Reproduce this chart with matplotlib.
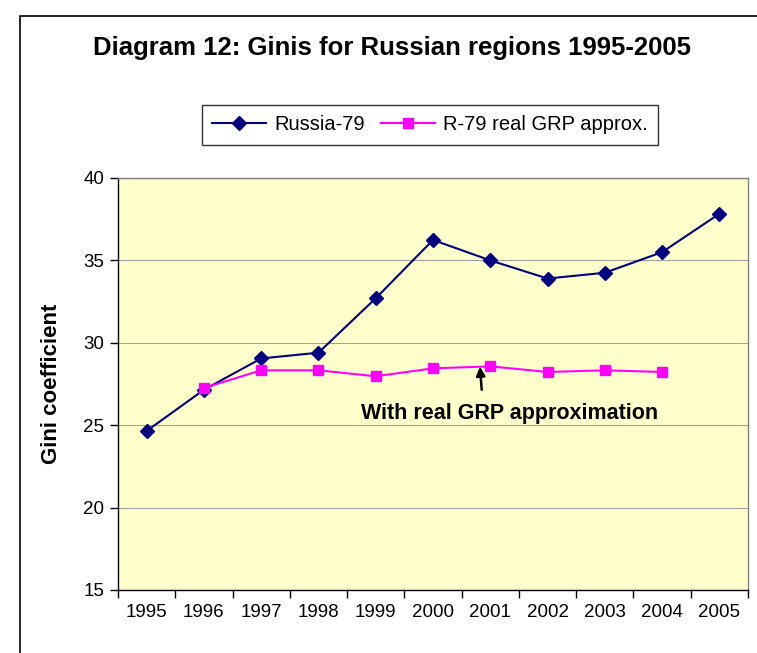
import matplotlib
matplotlib.use("Agg")
import matplotlib.pyplot as plt
from matplotlib.patches import Rectangle
import numpy as np

plt.rcParams['font.family'] = ['Liberation Sans', 'DejaVu Sans']

years = ['1995', '1996', '1997', '1998', '1999', '2000', '2001', '2002', '2003', '2004', '2005']
russia79 = [24.65, 27.15, 29.05, 29.4, 32.7, 36.24, 35.0, 33.9, 34.25, 35.5, 37.83]
r79_real = [None, 27.26, 28.33, 28.33, 27.97, 28.45, 28.57, 28.23, 28.33, 28.23, None]
y_ticks = [15, 20, 25, 30, 35, 40]

W, H = 757, 653
fig = plt.figure(figsize=(W / 100, H / 100), dpi=100)
fig.patch.set_facecolor('white')

# outer chart border
fig.add_artist(Rectangle((20 / W, -0.1), 1.2, 1 - 16 / H + 0.1, transform=fig.transFigure,
                         fill=False, edgecolor='black', linewidth=1.2))

ax = fig.add_axes([118 / W, 1 - 590 / H, (748 - 118) / W, (590 - 178) / H])
ax.set_facecolor('#FFFFCC')

x = np.arange(len(years))
ax.plot(x, russia79, color='#000080', marker='D', markersize=7.5, linewidth=1.5,
        label='Russia-79', zorder=3)
real_x = [i for i, v in enumerate(r79_real) if v is not None]
real_y = [v for v in r79_real if v is not None]
ax.plot(real_x, real_y, color='#FF00FF', marker='s', markersize=7.5, linewidth=1.5,
        label='R-79 real GRP approx.', zorder=4)

ax.set_xlim(-0.5, len(years) - 0.5)
ax.set_ylim(15, 40)
ax.set_yticks(y_ticks)
ax.set_yticklabels([str(t) for t in y_ticks], fontsize=13.5)
ax.set_xticks(x)
ax.set_xticklabels(years, fontsize=13.5)
ax.tick_params(axis='x', length=0, pad=10)
ax.set_xticks(np.arange(-0.5, len(years), 1.0), minor=True)
ax.tick_params(axis='x', which='minor', length=6, width=1, direction='out', color='black')
ax.tick_params(axis='y', length=6, width=1, direction='out', color='black', pad=4)

ax.grid(axis='y', color='#A0A0A0', linewidth=0.8)
ax.set_axisbelow(True)
for s in ['top', 'right']:
    ax.spines[s].set_color('#808080')
    ax.spines[s].set_linewidth(1.0)
for s in ['left', 'bottom']:
    ax.spines[s].set_color('black')
    ax.spines[s].set_linewidth(1.0)

ax.set_ylabel('Gini coefficient', fontsize=16, fontweight='bold', labelpad=15)

ax.annotate('', xy=(5.82, 28.55), xytext=(5.85, 27.15),
            arrowprops=dict(arrowstyle='-|>', color='black', lw=1.8, mutation_scale=13,
                            shrinkA=0, shrinkB=0))
ax.text(6.33, 25.7, 'With real GRP approximation', fontsize=15.5, fontweight='bold',
        ha='center', va='center')

fig.text(392 / W, 1 - 48 / H, 'Diagram 12: Ginis for Russian regions 1995-2005',
         fontsize=18.5, fontweight='bold', ha='center', va='center')

leg = fig.legend(loc='center', bbox_to_anchor=(430 / W, 1 - 125 / H), ncol=2,
                 fontsize=14.5, frameon=True, fancybox=False, edgecolor='black',
                 handlelength=2.7, columnspacing=0.8, handletextpad=0.4,
                 borderpad=0.5)
leg.get_frame().set_linewidth(1.0)

fig.savefig('out.png', dpi=100)
